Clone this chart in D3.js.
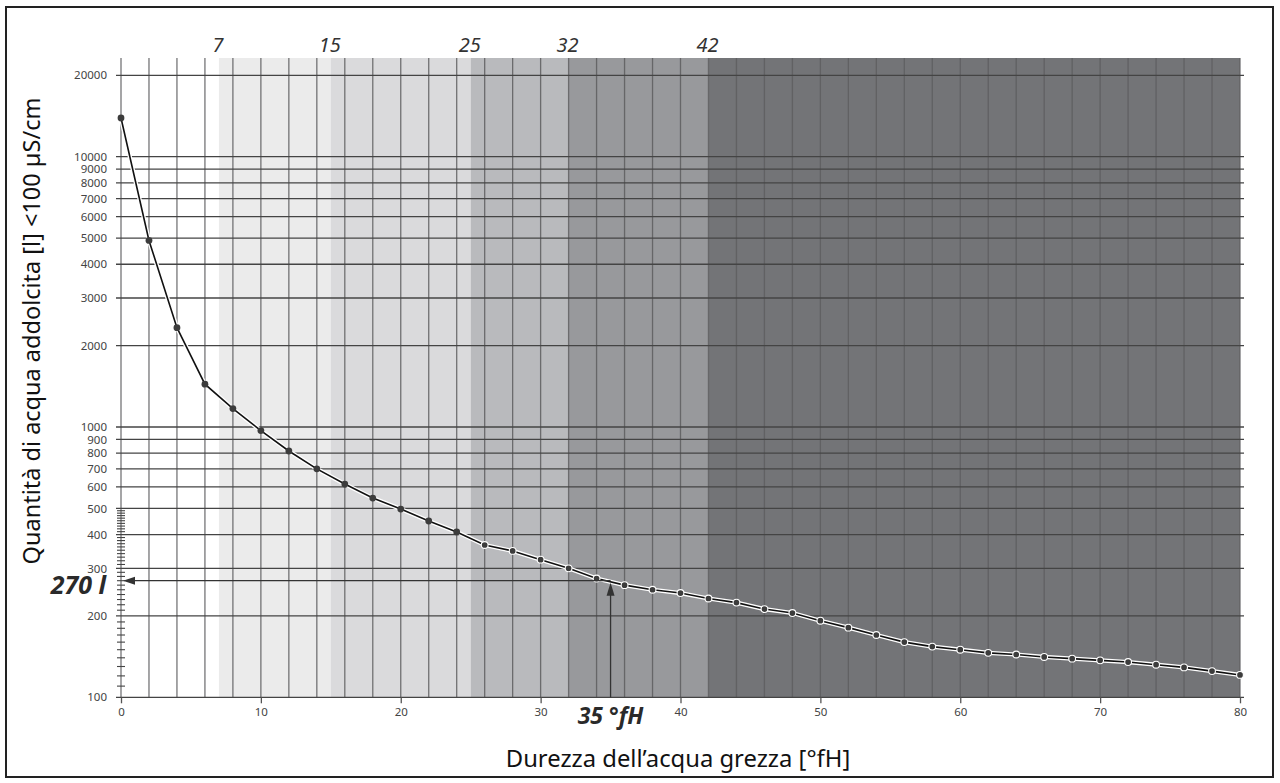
<!DOCTYPE html>
<html>
<head>
<meta charset="utf-8">
<script src="https://cdn.jsdelivr.net/npm/d3@7"></script>
<style>
  body { margin: 0; background: #fff; }
  svg { display: block; font-family: "Noto Sans", "Open Sans", sans-serif; }
</style>
</head>
<body>
<div id="SVG_CONTAINER"></div>
<script>
// raw water hardness (°fH) for every measured point
const hardness = [0, 2, 4, 6, 8, 10, 12, 14, 16, 18, 20, 22, 24, 26, 28, 30, 32, 34, 36, 38, 40,
    42, 44, 46, 48, 50, 52, 54, 56, 58, 60, 62, 64, 66, 68, 70, 72, 74, 76, 78, 80];
// softened water quantity (litres)
const volume = [13900, 4900, 2330, 1440, 1170, 970, 815, 700, 615, 546, 497, 449, 409, 366, 348, 323, 300, 275, 260, 250, 243,
    232, 224, 212, 205, 192, 181, 170, 160, 154, 150, 146, 144, 141, 139, 137, 135, 132, 129, 125, 121];

// hardness bands, with their boundary labels on top
const bandEdges = [0, 7, 15, 25, 32, 42, 80];
const bandColors = ["#ffffff", "#ebebeb", "#dadadc", "#b9babd", "#98999c", "#737477"];
const bandLabels = [7, 15, 25, 32, 42];

const xTickLabels = [0, 10, 20, 30, 40, 50, 60, 70, 80];
const yTickLabels = [100, 200, 300, 400, 500, 600, 700, 800, 900, 1000,
    2000, 3000, 4000, 5000, 6000, 7000, 8000, 9000, 10000, 20000];
const yMinorTicks = [110, 120, 130, 140, 150, 160, 170, 180, 190,
    210, 220, 230, 240, 250, 260, 270, 280, 290,
    310, 320, 330, 340, 350, 360, 370, 380, 390,
    410, 420, 430, 440, 450, 460, 470, 480, 490];

// reading example
const exampleHardness = 35;
const exampleVolume = 270;

const width = 1280, height = 783;
const plotTop = 58;

const svg = d3.select("#SVG_CONTAINER")
    .append("svg")
    .attr("width", width)
    .attr("height", height);

// frame
svg.append("rect")
    .attr("x", 6).attr("y", 7)
    .attr("width", 1267).attr("height", 770)
    .attr("fill", "none")
    .attr("stroke", "#222")
    .attr("stroke-width", 2);

const x = d3.scaleLinear().domain([0, 80]).range([121, 1240]);
const y = d3.scaleLog().domain([100, 20000]).range([697.3, 75.3]);
const plotBottom = y(100);

// bands
const bands = bandColors.map((c, i) => ({ x0: bandEdges[i], x1: bandEdges[i + 1], color: c }));
svg.append("g")
    .selectAll("rect")
    .data(bands)
    .enter()
    .append("rect")
    .attr("x", d => x(d.x0))
    .attr("y", plotTop)
    .attr("width", d => x(d.x1) - x(d.x0))
    .attr("height", plotBottom - plotTop)
    .attr("fill", d => d.color);

// vertical grid, one line per measured hardness
svg.append("g")
    .selectAll("line")
    .data(hardness)
    .enter()
    .append("line")
    .attr("x1", d => x(d)).attr("x2", d => x(d))
    .attr("y1", plotTop).attr("y2", plotBottom)
    .attr("stroke", "#5e5e60")
    .attr("stroke-width", 1.3)
    .attr("opacity", 0.85);

// horizontal grid
svg.append("g")
    .selectAll("line")
    .data(yTickLabels)
    .enter()
    .append("line")
    .attr("x1", x(0) - 5).attr("x2", x(80) + 4)
    .attr("y1", d => y(d)).attr("y2", d => y(d))
    .attr("stroke", "#444")
    .attr("stroke-width", 1.3);

// minor ticks on the y axis
svg.append("g")
    .selectAll("line")
    .data(yMinorTicks)
    .enter()
    .append("line")
    .attr("x1", x(0) - 4).attr("x2", x(0) + 4)
    .attr("y1", d => y(d)).attr("y2", d => y(d))
    .attr("stroke", "#444")
    .attr("stroke-width", 1.1);

// y axis labels
const yAxis = svg.append("g")
    .attr("transform", "translate(" + (x(0) - 5) + ",0)")
    .call(d3.axisLeft(y).tickValues(yTickLabels).tickFormat(d3.format("d")).tickSize(0).tickPadding(9));
yAxis.select(".domain").remove();
yAxis.selectAll("text")
    .attr("font-family", "Noto Sans")
    .attr("font-size", "11.5px")
    .attr("fill", "#444");

// x axis
const xAxis = svg.append("g")
    .attr("transform", "translate(0," + plotBottom + ")")
    .call(d3.axisBottom(x).tickValues(xTickLabels).tickSize(6).tickPadding(5));
xAxis.select(".domain").remove();
xAxis.selectAll("line").attr("stroke", "#555").attr("stroke-width", 1.3);
xAxis.selectAll("text")
    .attr("font-family", "Noto Sans")
    .attr("font-size", "11.5px")
    .attr("fill", "#444");

// band labels
svg.append("g")
    .selectAll("text")
    .data(bandLabels)
    .enter()
    .append("text")
    .attr("x", d => x(d) - 1)
    .attr("y", 52)
    .attr("text-anchor", "middle")
    .attr("font-size", "20px")
    .attr("font-style", "italic")
    .attr("fill", "#333")
    .text(d => d);

// curve
const points = hardness.map((h, i) => ({ h: h, v: volume[i] }));
const line = d3.line().x(d => x(d.h)).y(d => y(d.v));

svg.append("path")
    .datum(points)
    .attr("d", line)
    .attr("fill", "none")
    .attr("stroke", "#fff")
    .attr("stroke-width", 4.2);
svg.append("path")
    .datum(points)
    .attr("d", line)
    .attr("fill", "none")
    .attr("stroke", "#111")
    .attr("stroke-width", 1.6);
svg.append("g")
    .selectAll("circle")
    .data(points)
    .enter()
    .append("circle")
    .attr("cx", d => x(d.h))
    .attr("cy", d => y(d.v))
    .attr("r", 3.4)
    .attr("fill", "#3c3c3c")
    .attr("stroke", d => d.h >= 26 ? "#fff" : "none")
    .attr("stroke-width", 1.1);

// reading example: 35 °fH -> 270 l
const ex = x(exampleHardness), ey = y(exampleVolume);
svg.append("line")
    .attr("x1", x(0) + 12).attr("x2", ex)
    .attr("y1", ey).attr("y2", ey)
    .attr("stroke", "#333").attr("stroke-width", 1.3);
svg.append("path")
    .attr("d", "M" + (x(0) + 2) + "," + ey + "L" + (x(0) + 14) + "," + (ey - 4) + "L" + (x(0) + 14) + "," + (ey + 4) + "Z")
    .attr("fill", "#333");
svg.append("line")
    .attr("x1", ex).attr("x2", ex)
    .attr("y1", plotBottom).attr("y2", ey + 12)
    .attr("stroke", "#333").attr("stroke-width", 1.3);
svg.append("path")
    .attr("d", "M" + ex + "," + (ey + 2) + "L" + (ex - 4) + "," + (ey + 15) + "L" + (ex + 4) + "," + (ey + 15) + "Z")
    .attr("fill", "#333");

svg.append("text")
    .attr("x", 106)
    .attr("y", ey + 13)
    .attr("text-anchor", "end")
    .attr("font-size", "25px")
    .attr("font-weight", "bold")
    .attr("font-style", "italic")
    .attr("fill", "#2a2a2a")
    .text(exampleVolume + " l");

svg.append("text")
    .attr("x", ex)
    .attr("y", 724)
    .attr("text-anchor", "middle")
    .attr("font-size", "23px")
    .attr("font-weight", "bold")
    .attr("font-style", "italic")
    .attr("fill", "#2a2a2a")
    .text(exampleHardness + " °fH");

// axis titles
svg.append("text")
    .attr("x", 678)
    .attr("y", 767)
    .attr("text-anchor", "middle")
    .attr("font-size", "23.8px")
    .attr("fill", "#111")
    .text("Durezza dell’acqua grezza [°fH]");

svg.append("text")
    .attr("transform", "translate(40,331) rotate(-90)")
    .attr("text-anchor", "middle")
    .attr("font-size", "23.5px")
    .attr("fill", "#111")
    .text("Quantità di acqua addolcita [l] <100 µS/cm");
</script>
</body>
</html>
